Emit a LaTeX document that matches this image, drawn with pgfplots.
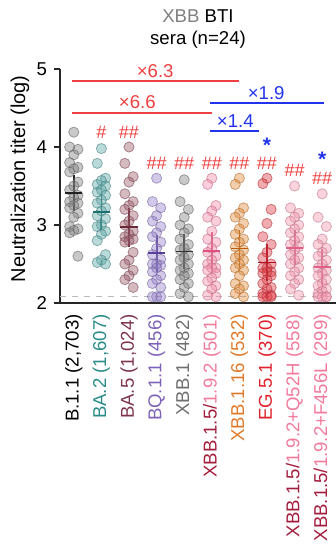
\documentclass[border=0pt]{standalone}
\usepackage{pgfplots}
\usepackage{pgfplotstable}
\pgfplotsset{compat=1.18}
\usepackage{fontspec}
\setmainfont{Liberation Sans}

\definecolor{cB}{HTML}{7F7F7F}\definecolor{mB}{HTML}{222222}
\definecolor{cBAtwo}{HTML}{5AA5A5}\definecolor{mBAtwo}{HTML}{1F6F6F}\definecolor{lBAtwo}{HTML}{2A8C88}
\definecolor{cBAfive}{HTML}{9A5A6A}\definecolor{mBAfive}{HTML}{6A2A3A}\definecolor{lBAfive}{HTML}{7D3550}
\definecolor{cBQ}{HTML}{9480C8}\definecolor{mBQ}{HTML}{5A3F9A}\definecolor{lBQ}{HTML}{7E62B8}
\definecolor{cXone}{HTML}{808080}\definecolor{mXone}{HTML}{333333}\definecolor{lXone}{HTML}{6E6E6E}
\definecolor{cXfive}{HTML}{F38AA8}\definecolor{mXfive}{HTML}{E05080}\definecolor{lpink}{HTML}{F27B9C}\definecolor{ldark}{HTML}{A31D3C}
\definecolor{cXsix}{HTML}{E08A3A}\definecolor{mXsix}{HTML}{B86010}\definecolor{lXsix}{HTML}{E07A2A}
\definecolor{cEG}{HTML}{DE3A44}\definecolor{mEG}{HTML}{B01020}\definecolor{lEG}{HTML}{E0202A}
\definecolor{cQ}{HTML}{F295AE}\definecolor{mQ}{HTML}{E0608A}
\definecolor{annred}{HTML}{EE4040}\definecolor{annblue}{HTML}{2233EE}

\pgfplotstableread{
dx c0 c1 c2 c3 c4 c5 c6 c7 c8 c9
0 4.19 3.98 4.0 3.6 3.58 3.6 3.6 3.6 3.5 3.4
-0.15 4.0 3.79 3.79 3.3 3.3 3.52 3.52 3.53 3.22 3.1
0.15 3.97 3.6 3.62 3.22 3.2 3.25 3.22 3.2 3.15 2.98
0 3.9 3.57 3.55 3.12 3.1 3.18 3.15 3.02 3.1 2.82
-0.15 3.8 3.52 3.4 3.05 3.0 3.1 3.1 2.85 3.05 2.75
0.15 3.74 3.5 3.3 2.98 2.95 3.05 3.02 2.75 3.0 2.7
0 3.72 3.45 3.25 2.9 2.9 2.92 2.95 2.65 2.95 2.65
-0.15 3.68 3.42 3.2 2.85 2.82 2.82 2.88 2.58 2.9 2.6
0.15 3.55 3.38 3.12 2.78 2.75 2.78 2.82 2.5 2.85 2.55
0 3.5 3.32 3.05 2.7 2.7 2.7 2.78 2.45 2.8 2.5
-0.15 3.45 3.28 3.0 2.62 2.68 2.65 2.72 2.45 2.75 2.45
0.15 3.38 3.22 2.92 2.56 2.62 2.6 2.68 2.4 2.72 2.42
0 3.35 3.18 2.88 2.5 2.58 2.55 2.62 2.4 2.68 2.38
-0.15 3.3 3.12 2.85 2.5 2.55 2.5 2.58 2.38 2.62 2.35
0.15 3.28 3.08 2.82 2.48 2.5 2.45 2.55 2.35 2.58 2.3
0 3.25 3.0 2.8 2.45 2.45 2.45 2.5 2.3 2.55 2.25
-0.15 3.22 2.98 2.78 2.4 2.42 2.42 2.45 2.25 2.5 2.22
0.15 3.15 2.92 2.65 2.35 2.38 2.38 2.42 2.2 2.45 2.18
0 3.1 2.88 2.55 2.3 2.35 2.32 2.35 2.18 2.4 2.15
-0.15 2.98 2.8 2.5 2.25 2.3 2.28 2.25 2.12 2.35 2.12
0.15 2.95 2.62 2.42 2.2 2.25 2.22 2.22 2.1 2.3 2.08
0 2.93 2.55 2.35 2.08 2.2 2.18 2.18 2.08 2.25 2.08
-0.15 2.9 2.52 2.3 2.08 2.12 2.1 2.12 2.08 2.18 2.08
0.15 2.6 2.5 2.2 2.08 2.08 2.08 2.08 2.08 2.1 2.08
}\data

\pgfplotsset{
  dots/.style={only marks, mark=*, mark size=2.55pt,
    mark options={draw=#1!80!black, draw opacity=0.6, fill=#1, fill opacity=0.42, line width=0.4pt}},
  meanci/.style={only marks, mark=-, mark size=4.3pt,
    mark options={line width=0.9pt, draw=#1, fill=#1, opacity=1},
    error bars/.cd, y dir=both, y explicit,
    error bar style={line width=0.9pt, draw=#1},
    error mark options={mark size=2.6pt, line width=0.9pt, draw=#1}},
}
\tikzset{hashmark/.style={annred, font=\fontsize{9}{10}\selectfont, inner sep=0pt, text depth=0pt},
  starmark/.style={annblue, font=\fontsize{10.5}{10.5}\selectfont\bfseries, inner sep=0pt,
    anchor=base, text height=0.72em, text depth=0pt}}

\begin{document}
\begin{tikzpicture}
\begin{axis}[
  scale only axis, width=138pt, height=117pt,
  xmin=-0.5, xmax=9.5, ymin=2, ymax=5,
  axis lines*=left,
  axis line style={line width=0.9pt, draw=black!85},
  ytick={2,3,4,5},
  tick align=outside, major tick length=3pt,
  ytick style={line width=0.9pt, draw=black!85},
  xtick={0,1,2,3,4,5,6,7,8,9},
  x tick style={draw=none},
  xticklabels={
    {B.1.1 (2,703)},
    {\textcolor{lBAtwo}{BA.2 (1,607)}},
    {\textcolor{lBAfive}{BA.5 (1,024)}},
    {\textcolor{lBQ}{BQ.1.1 (456)}},
    {\textcolor{lXone}{XBB.1 (482)}},
    {\textcolor{ldark}{XBB.1.5/}\textcolor{lpink}{1.9.2 (501)}},
    {\textcolor{lXsix}{XBB.1.16 (532)}},
    {\textcolor{lEG}{EG.5.1 (370)}},
    {\textcolor{ldark}{XBB.1.5/}\textcolor{lpink}{1.9.2+Q52H (558)}},
    {\textcolor{ldark}{XBB.1.5/}\textcolor{lpink}{1.9.2+F456L (299)}}},
  xticklabel style={rotate=90, anchor=east, inner sep=2.5pt, font=\fontsize{9.3}{11}\selectfont},
  yticklabel style={font=\fontsize{9.3}{11}\selectfont},
  /pgf/number format/assume math mode=true,
  ylabel={Neutralization titer (log)},
  ylabel style={font=\fontsize{10}{12}\selectfont, at={(axis description cs:-0.145,0.53)}, anchor=center},
  clip=false,
]
\addplot[gray!55, dashed, line width=0.6pt] coordinates {(-0.5,2.08) (9.5,2.08)};

\addplot[dots=cB] table[x expr=\thisrow{dx}+0, y=c0] {\data};
\addplot[dots=cBAtwo] table[x expr=\thisrow{dx}+1, y=c1] {\data};
\addplot[dots=cBAfive] table[x expr=\thisrow{dx}+2, y=c2] {\data};
\addplot[dots=cBQ] table[x expr=\thisrow{dx}+3, y=c3] {\data};
\addplot[dots=cXone] table[x expr=\thisrow{dx}+4, y=c4] {\data};
\addplot[dots=cXfive] table[x expr=\thisrow{dx}+5, y=c5] {\data};
\addplot[dots=cXsix] table[x expr=\thisrow{dx}+6, y=c6] {\data};
\addplot[dots=cEG] table[x expr=\thisrow{dx}+7, y=c7] {\data};
\addplot[dots=cQ] table[x expr=\thisrow{dx}+8, y=c8] {\data};
\addplot[dots=cQ] table[x expr=\thisrow{dx}+9, y=c9] {\data};

\addplot[meanci=mB] coordinates {(0,3.41) +- (0,0.17)};
\addplot[meanci=mBAtwo] coordinates {(1,3.17) +- (0,0.17)};
\addplot[meanci=mBAfive] coordinates {(2,2.97) +- (0,0.18)};
\addplot[meanci=mBQ] coordinates {(3,2.64) +- (0,0.17)};
\addplot[meanci=mXone] coordinates {(4,2.66) +- (0,0.16)};
\addplot[meanci=mXfive] coordinates {(5,2.67) +- (0,0.17)};
\addplot[meanci=mXsix] coordinates {(6,2.70) +- (0,0.17)};
\addplot[meanci=mEG] coordinates {(7,2.52) +- (0,0.17)};
\addplot[meanci=mQ] coordinates {(8,2.71) +- (0,0.16)};
\addplot[meanci=mQ] coordinates {(9,2.46) +- (0,0.16)};

% comparison brackets
\draw[annred, line width=1pt] (axis cs:-0.05,4.85) -- (axis cs:6,4.85);
\node[annred, font=\fontsize{9.3}{11}\selectfont] at (axis cs:2.95,4.97) {×6.3};
\draw[annred, line width=1pt] (axis cs:-0.05,4.44) -- (axis cs:5,4.44);
\node[annred, font=\fontsize{9.3}{11}\selectfont] at (axis cs:2.3,4.58) {×6.6};
\draw[annblue, line width=1pt] (axis cs:4.95,4.56) -- (axis cs:9.05,4.56);
\node[annblue, font=\fontsize{9.3}{11}\selectfont] at (axis cs:6.97,4.69) {×1.9};
\draw[annblue, line width=1pt] (axis cs:4.95,4.2) -- (axis cs:6.7,4.2);
\node[annblue, font=\fontsize{9.3}{11}\selectfont] at (axis cs:5.85,4.33) {×1.4};

% significance marks
\node[hashmark] at (axis cs:1,4.19) {\#};
\node[hashmark] at (axis cs:2,4.19) {\#\#};
\node[hashmark] at (axis cs:3,3.79) {\#\#};
\node[hashmark] at (axis cs:4,3.79) {\#\#};
\node[hashmark] at (axis cs:5,3.79) {\#\#};
\node[hashmark] at (axis cs:6,3.79) {\#\#};
\node[hashmark] at (axis cs:7,3.79) {\#\#};
\node[hashmark] at (axis cs:8,3.7) {\#\#};
\node[hashmark] at (axis cs:9,3.6) {\#\#};
\node[starmark] at (axis cs:7,3.93) {*};
\node[starmark] at (axis cs:9,3.745) {*};

\node[align=center, font=\fontsize{9.3}{11}\selectfont] at (axis description cs:0.5,1.171)
  {\textcolor{gray}{XBB} BTI\\sera (n=24)};

\coordinate (ll) at (rel axis cs:0,0);
\end{axis}
\pgfresetboundingbox
\path ([shift={(-30pt,-124.5pt)}]ll) rectangle ([shift={(138pt,151.5pt)}]ll);
\end{tikzpicture}
\end{document}
